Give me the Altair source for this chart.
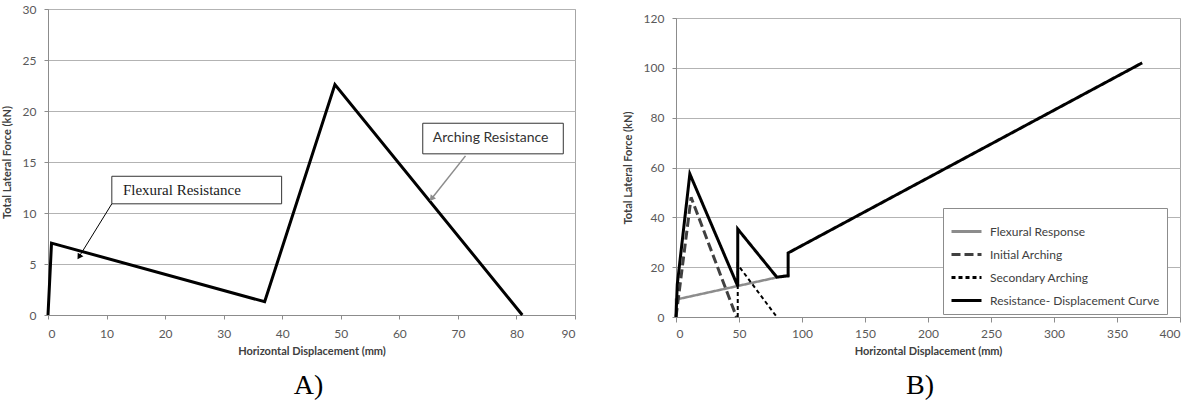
import math
import altair as alt
import pandas as pd

# ---------------- Panel A data ----------------
a_disp = [0, 0.6, 37, 49, 81]
a_force = [0, 7.05, 1.3, 22.6, 0]

# annotation boxes / labels / arrows (data coordinates)
flex_box_x = [10.9, 39.9]
flex_box_y = [10.9, 13.6]
flex_label_xy = [12.8, 12.25]
flex_arrow_x = [10.9, 5.3]
flex_arrow_y = [10.9, 5.7]

arch_box_x = [64.0, 88.0]
arch_box_y = [15.8, 18.8]
arch_label_xy = [65.7, 17.35]
arch_arrow_x = [71.3, 65.5]
arch_arrow_y = [15.6, 11.4]

# ---------------- Panel B data ----------------
series_names = ["Flexural Response", "Initial Arching", "Secondary Arching",
                "Resistance- Displacement Curve"]
flex_disp = [0, 0, 90]
flex_force = [0, 7, 17]
init_disp = [0, 12, 48]
init_force = [0, 48, 0]
sec_disp = [49, 49, 80]
sec_force = [0, 21, 0]
res_disp = [0, 1, 11, 49, 49, 80, 89, 89, 370]
res_force = [0, 13, 57.4, 12.4, 35.3, 16, 16.5, 25.7, 102]

# ---------------- sizes ----------------
A_W, A_H = 527, 306
B_W, B_H = 504, 299
A_XMAX, A_YMAX = 90, 30

FONT = "Lato"
SERIF = "Liberation Serif"

# ---------------- Panel A ----------------
dfA = pd.DataFrame({"x": a_disp, "y": a_force, "i": range(len(a_disp))})

xA = alt.X("x:Q", scale=alt.Scale(domain=[0, A_XMAX], nice=False),
           axis=alt.Axis(values=list(range(0, 91, 10)), title="Horizontal Displacement (mm)",
                         tickSize=4, labelPadding=9, titlePadding=6))
yA = alt.Y("y:Q", scale=alt.Scale(domain=[0, A_YMAX], nice=False),
           axis=alt.Axis(values=list(range(0, 31, 5)), title="Total Lateral Force (kN)",
                         tickSize=4, labelPadding=8, titlePadding=10))

lineA = alt.Chart(dfA).mark_line(color="black", strokeWidth=3, strokeJoin="miter").encode(
    x=xA, y=yA, order="i:Q")

boxes = pd.DataFrame({
    "x": [flex_box_x[0], arch_box_x[0]], "x2": [flex_box_x[1], arch_box_x[1]],
    "y": [flex_box_y[0], arch_box_y[0]], "y2": [flex_box_y[1], arch_box_y[1]],
})
boxA = alt.Chart(boxes).mark_rect(fill="white", stroke="#333333", strokeWidth=1).encode(
    x=xA, x2="x2:Q", y=yA, y2="y2:Q")

flex_txt = alt.Chart(pd.DataFrame({"x": [flex_label_xy[0]], "y": [flex_label_xy[1]],
                                   "t": ["Flexural Resistance"]})).mark_text(
    align="left", baseline="middle", font=SERIF, fontSize=15, color="#1a1a1a").encode(
    x=xA, y=yA, text="t:N")
arch_txt = alt.Chart(pd.DataFrame({"x": [arch_label_xy[0]], "y": [arch_label_xy[1]],
                                   "t": ["Arching  Resistance"]})).mark_text(
    align="left", baseline="middle", font=FONT, fontSize=14, color="#333333").encode(
    x=xA, y=yA, text="t:N")


def arrow_angle(xs, ys):
    dx = (xs[1] - xs[0]) * A_W / A_XMAX
    dy = -(ys[1] - ys[0]) * A_H / A_YMAX
    ang = math.degrees(math.atan2(dx, -dy))
    return ang % 360


def arrow(xs, ys, color, width):
    df = pd.DataFrame({"x": xs, "y": ys, "i": [0, 1]})
    shaft = alt.Chart(df).mark_line(color=color, strokeWidth=width).encode(x=xA, y=yA, order="i:Q")
    head = alt.Chart(df.iloc[[1]]).mark_point(
        shape="triangle-up", filled=True, color=color, size=45, opacity=1,
        angle=arrow_angle(xs, ys)).encode(x=xA, y=yA)
    return shaft + head


chartA = alt.layer(
    lineA, boxA, flex_txt, arch_txt,
    arrow(flex_arrow_x, flex_arrow_y, "#000000", 1),
    arrow(arch_arrow_x, arch_arrow_y, "#8c8c8c", 1.5),
).properties(
    width=A_W, height=A_H,
    title=alt.TitleParams("A)", orient="bottom", font=SERIF, fontSize=28, fontWeight="normal",
                          color="black", offset=16, frame="group", dx=-3),
)

# ---------------- Panel B ----------------
rows = []
for name, xs, ys in [
    (series_names[0], flex_disp, flex_force),
    (series_names[1], init_disp, init_force),
    (series_names[2], sec_disp, sec_force),
    (series_names[3], res_disp, res_force),
]:
    for i, (xv, yv) in enumerate(zip(xs, ys)):
        rows.append({"series": name, "x": xv, "y": yv, "i": i})
dfB = pd.DataFrame(rows)

colors = ["#8c8c8c", "#404040", "#000000", "#000000"]
dashes = [[1, 0], [9, 4], [4, 3], [1, 0]]
widths = [2.5, 3, 2, 3]

xB = alt.X("x:Q", scale=alt.Scale(domain=[0, 400], nice=False),
           axis=alt.Axis(values=list(range(0, 401, 50)), title="Horizontal Displacement (mm)",
                         tickSize=5, labelPadding=6, titlePadding=6))
yB = alt.Y("y:Q", scale=alt.Scale(domain=[0, 120], nice=False),
           axis=alt.Axis(values=list(range(0, 121, 20)), title="Total Lateral Force (kN)",
                         tickSize=4, labelPadding=8, titlePadding=10))

# legend is placed by the root layout, whose origin is panel A's plot corner
leg = alt.Legend(title=None, orient="none", legendX=895, legendY=199, fillColor="white",
                 strokeColor="#8c8c8c", padding=7, symbolType="stroke", symbolSize=900,
                 symbolStrokeWidth=3, labelFont=FONT, labelFontSize=12, labelColor="#404040",
                 rowPadding=-1, labelOffset=7, labelLimit=300)
colorB = alt.Color("series:N", scale=alt.Scale(domain=series_names, range=colors), legend=leg)
dashB = alt.StrokeDash("series:N", scale=alt.Scale(domain=series_names, range=dashes), legend=leg)

layersB = []
for name, w in zip(series_names, widths):
    layersB.append(
        alt.Chart(dfB).transform_filter(alt.datum.series == name).mark_line(
            strokeWidth=w, strokeJoin="miter").encode(
            x=xB, y=yB, color=colorB, strokeDash=dashB, order="i:Q")
    )

chartB = alt.layer(*layersB).properties(
    width=B_W, height=B_H,
    title=alt.TitleParams("B)", orient="bottom", font=SERIF, fontSize=28, fontWeight="normal",
                          color="black", offset=16, frame="group", dx=-8),
)

spacer = alt.Chart(pd.DataFrame({"v": [0]})).mark_point(opacity=0).encode(
    x=alt.X("v:Q", axis=None), y=alt.Y("v:Q", axis=None)
).properties(width=B_W, height=1, view=alt.ViewBackground(stroke=None))

colB = alt.vconcat(spacer, chartB, spacing=-2)

chart = alt.hconcat(chartA, colB, spacing=45).properties(
    padding={"left": 0, "top": 2, "right": 0, "bottom": 0},
).configure_view(stroke="#a6a6a6", strokeWidth=1).configure_axis(
    labelFont=FONT, labelFontSize=12, labelColor="#595959",
    titleFont=FONT, titleFontSize=11, titleFontWeight="bold", titleColor="#404040",
    domainColor="#8c8c8c", tickColor="#8c8c8c", gridColor="#b3b3b3", gridWidth=1,
).configure_axisX(grid=False).configure_axisY(grid=True)

chart.save("out.html", embed_options={"renderer": "svg", "actions": False})
